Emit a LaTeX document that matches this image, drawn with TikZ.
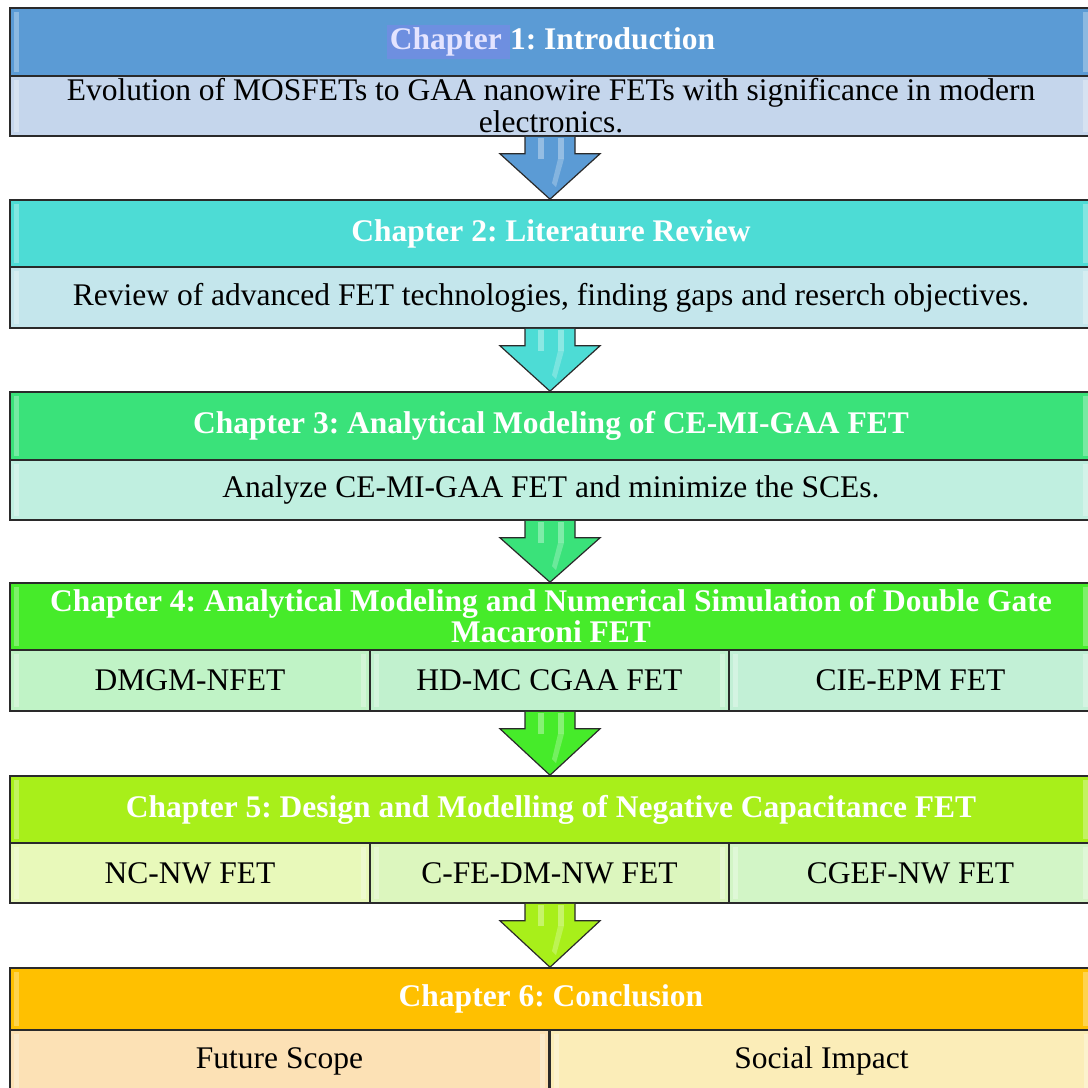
\documentclass[tikz,border=0pt]{standalone}
\usepackage{fontspec}
\setmainfont{Liberation Serif}
\usetikzlibrary{calc}
\frenchspacing
\definecolor{hA}{HTML}{5B9BD5}\definecolor{bA}{HTML}{C5D6EC}
\definecolor{hB}{HTML}{4DDCD5}\definecolor{bB}{HTML}{C4E6EC}
\definecolor{hC}{HTML}{3AE27A}\definecolor{bC}{HTML}{C0EFE0}
\definecolor{hD}{HTML}{46EB2A}\definecolor{bDa}{HTML}{C0F3C6}\definecolor{bDb}{HTML}{C1F1CE}\definecolor{bDc}{HTML}{C2F0D6}
\definecolor{hE}{HTML}{A8EF1A}\definecolor{bEa}{HTML}{E8F9BA}\definecolor{bEb}{HTML}{DCF6BE}\definecolor{bEc}{HTML}{D2F5C6}
\definecolor{hF}{HTML}{FFC000}\definecolor{bFa}{HTML}{FCE1B5}\definecolor{bFb}{HTML}{FBEDB8}
\definecolor{hiA}{HTML}{6E8FE0}\definecolor{lav}{HTML}{E4E4FF}
\definecolor{edge}{HTML}{2A2A2A}
\tikzset{
  hdr/.style={draw=edge,line width=1.6pt,minimum width=1082pt,inner sep=0pt,
    font=\fontsize{31.5}{31}\selectfont\bfseries,text=white,align=center},
  bdy/.style={draw=edge,line width=1.6pt,inner sep=0pt,
    font=\fontsize{31.5}{32}\selectfont,text=black,align=center},
  fat/.style={draw=edge,line width=1.2pt,line join=miter},
}
\newcommand{\bev}[1]{%
  \fill[white,opacity=0.3] ($(#1.north west)+(5,5)$) rectangle ($(#1.south west)+(10,-5)$);
  \fill[white,opacity=0.3] ($(#1.north east)+(-10,5)$) rectangle ($(#1.south east)+(-5,-5)$);}
\newcommand{\fatarrow}[3]{% from node, to node, colour
  \path let \p1=(#1.south), \p2=(#2.north) in
    coordinate (s) at (550,\y1) coordinate (t) at (550,\y2);
  \draw[fat,fill=#3] ($(s)+(-25,0)$) -- ($(s)+(-25,17)$) -- ($(s)+(-50,17)$) -- (t)
     -- ($(s)+(50,17)$) -- ($(s)+(25,17)$) -- ($(s)+(25,0)$);
  \fill[white,opacity=0.35] ($(s)+(-12,1)$) rectangle ($(s)+(-6,22)$);
  \fill[white,opacity=0.35] ($(s)+(8,1)$) rectangle ($(s)+(14,22)$);
  \fill[white,opacity=0.25] ($(s)+(8,22)$) -- ($(s)+(14,22)$) -- ($(t)+(6,-12)$) -- ($(t)+(2,-16)$) -- cycle;}
\begin{document}
\begin{tikzpicture}[x=1pt,y=-1pt]
\useasboundingbox[fill=white] (0,0) rectangle (1088,1088);
% Chapter 1
\node[hdr,fill=hA,minimum height=68pt] (h1) at (551,42) {\colorbox{hiA}{\textcolor{lav}{Chapter}\,}1: Introduction};
\node[bdy,fill=bA,minimum width=1082pt,minimum height=60pt] (b1) at (551,106) {Evolution of MOSFETs to GAA nanowire FETs with significance in modern\\electronics.};
\bev{h1}\bev{b1}
% Chapter 2
\node[hdr,fill=hB,minimum height=67pt] (h2) at (551,233.5) {Chapter 2: Literature Review};
\node[bdy,fill=bB,minimum width=1082pt,minimum height=61pt] (b2) at (551,297.5) {Review of advanced FET technologies, finding gaps and reserch objectives.};
\bev{h2}\bev{b2}
% Chapter 3
\node[hdr,fill=hC,minimum height=68pt] (h3) at (551,426) {Chapter 3: Analytical Modeling of CE-MI-GAA FET};
\node[bdy,fill=bC,minimum width=1082pt,minimum height=60pt] (b3) at (551,490) {Analyze CE-MI-GAA FET and minimize the SCEs.};
\bev{h3}\bev{b3}
% Chapter 4
\node[hdr,fill=hD,minimum height=67pt] (h4) at (551,616.5) {Chapter 4: Analytical Modeling and Numerical Simulation of Double Gate\\Macaroni FET};
\node[bdy,fill=bDa,minimum width=360pt,minimum height=61pt] (d1) at (190,680.5) {DMGM-NFET};
\node[bdy,fill=bDb,minimum width=359pt,minimum height=61pt] (d2) at (549.5,680.5) {HD-MC CGAA FET};
\node[bdy,fill=bDc,minimum width=363pt,minimum height=61pt] (d3) at (910.5,680.5) {CIE-EPM FET};
\bev{h4}\bev{d1}\bev{d2}\bev{d3}
% Chapter 5
\node[hdr,fill=hE,minimum height=67pt] (h5) at (551,809.5) {Chapter 5: Design and Modelling of Negative Capacitance FET};
\node[bdy,fill=bEa,minimum width=360pt,minimum height=60pt] (e1) at (190,873) {NC-NW FET};
\node[bdy,fill=bEb,minimum width=359pt,minimum height=60pt] (e2) at (549.5,873) {C-FE-DM-NW FET};
\node[bdy,fill=bEc,minimum width=363pt,minimum height=60pt] (e3) at (910.5,873) {CGEF-NW FET};
\bev{h5}\bev{e1}\bev{e2}\bev{e3}
% Chapter 6
\node[hdr,fill=hF,minimum height=62pt] (h6) at (551,999) {Chapter 6: Conclusion};
\node[bdy,fill=bFa,minimum width=539pt,minimum height=62pt] (f1) at (279.5,1061) {Future Scope};
\node[bdy,fill=bFb,minimum width=543pt,minimum height=62pt] (f2) at (821.5,1061) {Social Impact};
\bev{h6}\bev{f1}\bev{f2}
% arrows
\fatarrow{b1}{h2}{hA}
\fatarrow{b2}{h3}{hB}
\fatarrow{b3}{h4}{hC}
\fatarrow{d2}{h5}{hD}
\fatarrow{e2}{h6}{hE}
\end{tikzpicture}
\end{document}
